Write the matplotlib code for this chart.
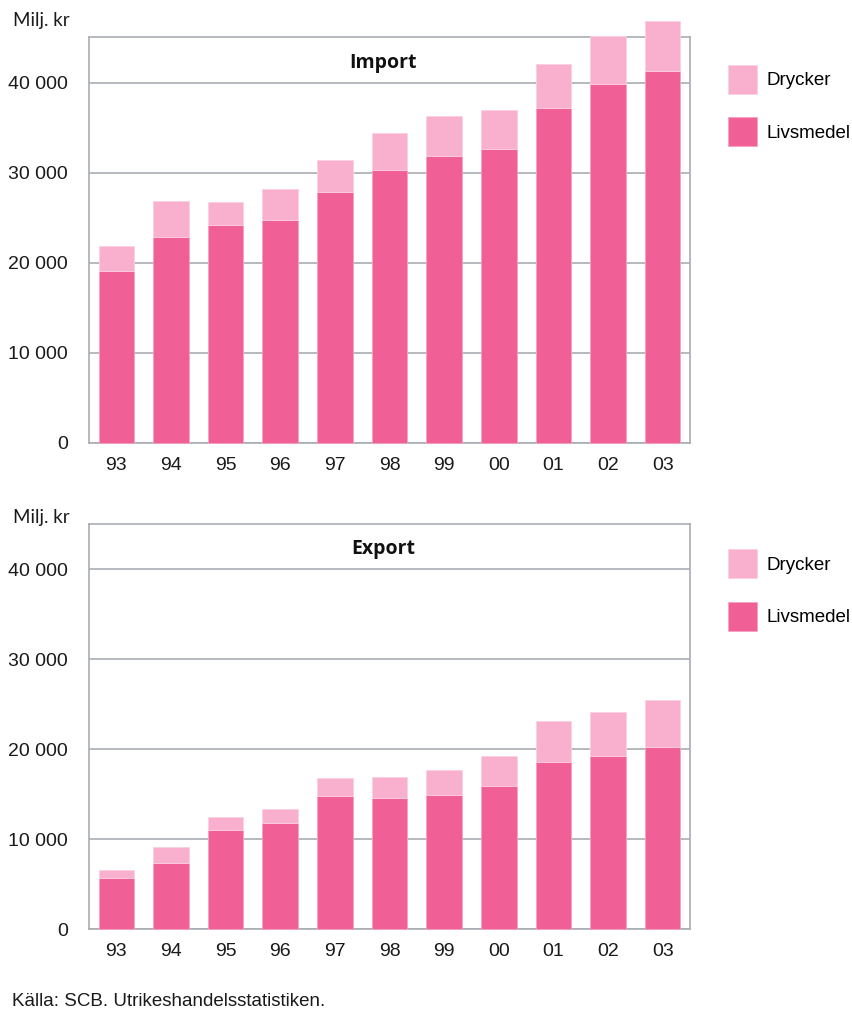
import matplotlib
matplotlib.use("Agg")
import matplotlib.pyplot as plt
from matplotlib.ticker import FuncFormatter

plt.rcParams["font.family"] = ["Liberation Sans", "DejaVu Sans"]

years = ["93", "94", "95", "96", "97", "98", "99", "00", "01", "02", "03"]

# Miljoner kronor
import_livsmedel = [19100, 22900, 24200, 24800, 27800, 30300, 31900, 32600, 37200, 39800, 41300]
import_drycker = [2800, 3900, 2500, 3400, 3600, 4100, 4400, 4300, 4900, 5400, 5500]

export_livsmedel = [5700, 7300, 11000, 11800, 14800, 14600, 14900, 15900, 18600, 19200, 20200]
export_drycker = [900, 1800, 1400, 1500, 2000, 2300, 2800, 3300, 4500, 4900, 5200]

c_livs = "#F06096"
c_dryck = "#F8B0CE"
grid_c = "#A9ADB1"

fig = plt.figure(figsize=(8.53, 10.13), dpi=100)

def thousands(v, pos):
    return f"{int(v):,}".replace(",", " ")

def draw(ax, livs, dryck, title, leg_y):
    x = range(len(years))
    b1 = ax.bar(x, livs, width=0.65, color=c_livs, edgecolor="#F7A3C4",
                linewidth=0.6, clip_on=False, zorder=3)
    b2 = ax.bar(x, dryck, bottom=livs, width=0.65, color=c_dryck,
                edgecolor="#FBD0E2", linewidth=0.6, clip_on=False, zorder=3)
    ax.set_xlim(-0.5, len(years) - 0.5)
    ax.set_ylim(0, 45000)
    ax.set_yticks([0, 10000, 20000, 30000, 40000])
    ax.yaxis.set_major_formatter(FuncFormatter(thousands))
    ax.set_xticks(list(x))
    ax.set_xticklabels(years)
    ax.tick_params(axis="both", length=0, labelsize=14, colors="#1a1a1a")
    ax.tick_params(axis="y", pad=15)
    ax.tick_params(axis="x", pad=10)
    ax.grid(axis="y", color=grid_c, linewidth=1.2)
    ax.set_axisbelow(True)
    for s in ax.spines.values():
        s.set_color(grid_c)
        s.set_linewidth(1.2)
    ax.text(0.489, 42200, title, transform=ax.get_yaxis_transform(),
            ha="center", va="center", fontsize=14, fontweight="bold",
            family=["Open Sans", "DejaVu Sans"], color="#111111")
    ax.legend([b2, b1], ["Drycker", "Livsmedel"], loc="upper left",
              bbox_to_anchor=(1.063, leg_y), frameon=False, fontsize=13.5,
              handlelength=1.55, handleheight=2.0, handletextpad=0.53,
              labelspacing=1.25, borderaxespad=0, borderpad=0)

ax1 = fig.add_axes([0.1043, 0.5627, 0.7046, 0.4003])
draw(ax1, import_livsmedel, import_drycker, "Import", 0.932)
ax2 = fig.add_axes([0.1043, 0.0829, 0.7046, 0.3998])
draw(ax2, export_livsmedel, export_drycker, "Export", 0.938)

unit_font = ["Lato", "DejaVu Sans"]
fig.text(0.015, 0.980, "Milj. kr", fontsize=13.5, va="center", color="#1a1a1a",
         family=unit_font)
fig.text(0.015, 0.489, "Milj. kr", fontsize=13.5, va="center", color="#1a1a1a",
         family=unit_font)
fig.text(0.014, 0.011, "Källa: SCB. Utrikeshandelsstatistiken.", fontsize=13.5,
         va="center", color="#1a1a1a")

fig.savefig("out.png", dpi=100)
